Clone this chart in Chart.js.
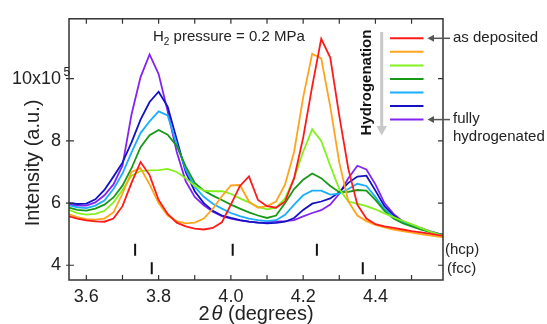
<!DOCTYPE html>
<html>
<head>
<meta charset="utf-8">
<script src="https://cdn.jsdelivr.net/npm/chart.js@4/dist/chart.umd.min.js"></script>
<style>
  html, body { margin: 0; padding: 0; background: #fff; }
</style>
</head>
<body>
<canvas id="chart" width="547" height="324"></canvas>
<script>
const twoTheta = [3.55, 3.575, 3.6, 3.625, 3.65, 3.675, 3.7, 3.725, 3.75, 3.775, 3.8, 3.825, 3.85, 3.875, 3.9,
    3.925, 3.95, 3.975, 4.0, 4.025, 4.05, 4.075, 4.1, 4.125, 4.15, 4.175, 4.2, 4.225, 4.25, 4.275, 4.3,
    4.325, 4.35, 4.375, 4.4, 4.425, 4.45, 4.475, 4.5, 4.525, 4.55, 4.575, 4.6];

// intensity in units of 1e5, from as deposited (first) to fully hydrogenated (last)
const stage1 = [5.58, 5.5, 5.44, 5.41, 5.4, 5.5, 5.9, 6.65, 7.32, 6.9, 6.1, 5.65, 5.37, 5.25, 5.18,
    5.15, 5.2, 5.38, 5.95, 6.55, 6.86, 6.1, 5.9, 5.85, 6.05, 6.8, 8.1, 9.75, 11.28, 10.68, 8.8,
    7.1, 5.95, 5.5, 5.32, 5.25, 5.2, 5.15, 5.1, 5.06, 5.02, 4.97, 4.93];
const stage2 = [5.65, 5.55, 5.48, 5.47, 5.5, 5.7, 6.3, 7.0, 7.12, 6.6, 6.0, 5.6, 5.42, 5.35, 5.37,
    5.5, 5.82, 6.22, 6.57, 6.58, 6.05, 5.85, 5.9, 6.05, 6.6, 7.65, 9.4, 10.8, 10.65, 9.1, 7.3,
    6.05, 5.6, 5.42, 5.3, 5.22, 5.15, 5.1, 5.05, 5.0, 4.96, 4.92, 4.88];
const stage3 = [5.79, 5.68, 5.63, 5.65, 5.75, 6.02, 6.42, 6.88, 7.03, 7.05, 7.06, 7.1, 7.0, 6.8, 6.55,
    6.4, 6.38, 6.38, 6.3, 6.15, 6.02, 5.88, 5.8, 5.85, 6.15, 6.8, 7.65, 8.37, 8.0, 7.2, 6.45,
    6.05, 5.98, 5.9, 5.8, 5.67, 5.55, 5.43, 5.32, 5.2, 5.09, 4.99, 4.92];
const stage4 = [5.86, 5.78, 5.76, 5.82, 5.95, 6.18, 6.56, 7.12, 7.8, 8.18, 8.35, 8.2, 7.84, 7.18, 6.65,
    6.4, 6.24, 6.1, 5.95, 5.82, 5.7, 5.6, 5.52, 5.6, 6.0, 6.45, 6.75, 6.95, 6.8, 6.55, 6.35,
    6.36, 6.42, 6.4, 6.1, 5.75, 5.5, 5.35, 5.25, 5.15, 5.07, 5.0, 4.95];
const stage5 = [5.93, 5.86, 5.84, 5.92, 6.08, 6.45, 6.95, 7.63, 8.25, 8.63, 8.95, 8.82, 7.9, 7.08, 6.52,
    6.2, 5.98, 5.82, 5.68, 5.58, 5.5, 5.45, 5.42, 5.45, 5.62, 5.95, 6.25, 6.4, 6.4, 6.27, 6.3,
    6.45, 6.62, 6.55, 6.2, 5.8, 5.55, 5.38, 5.27, 5.17, 5.08, 5.0, 4.95];
const stage6 = [6.0, 5.97, 5.98, 6.12, 6.42, 6.85, 7.3, 7.95, 8.68, 9.25, 9.58, 9.1, 8.05, 7.0, 6.38,
    6.0, 5.75, 5.6, 5.52, 5.45, 5.4, 5.37, 5.35, 5.36, 5.4, 5.52, 5.78, 5.98, 6.05, 6.15, 6.35,
    6.65, 6.85, 6.88, 6.4, 5.9, 5.6, 5.4, 5.28, 5.18, 5.08, 5.0, 4.95];
const stage7 = [5.95, 5.92, 5.92, 6.02, 6.25, 6.6, 7.2, 8.85, 10.05, 10.78, 10.15, 8.95, 7.65, 6.7, 6.2,
    5.93, 5.72, 5.58, 5.5, 5.44, 5.4, 5.37, 5.38, 5.4, 5.42, 5.45, 5.57, 5.68, 5.77, 5.95, 6.3,
    6.8, 7.2, 7.08, 6.6, 6.0, 5.65, 5.42, 5.3, 5.2, 5.1, 5.02, 4.96];

const stages = [stage1, stage2, stage3, stage4, stage5, stage6, stage7];
const stageColors = ['#ff1a1a', '#ffa41c', '#84f01c', '#169a16', '#1aaeff', '#1212c4', '#8424f2'];

const hcpPeaks = [3.735, 4.005, 4.238];
const fccPeaks = [3.781, 4.365];
const hcpLevel = 4.5;
const fccLevel = 3.9;

const xTicks = [3.6, 3.7, 3.8, 3.9, 4.0, 4.1, 4.2, 4.3, 4.4, 4.5];
const xMajor = [3.6, 3.8, 4.0, 4.2, 4.4];
const yTicks = [4, 6, 8, 10];
const yTickLabels = ['4', '6', '8', '10x10'];

const FONT = '"Liberation Sans", Arial, sans-serif';

const datasets = stages.map((vals, i) => ({
    data: twoTheta.map((x, j) => ({ x: x, y: vals[j] })),
    borderColor: stageColors[i],
    borderWidth: 1.8,
    pointRadius: 0,
    tension: 0,
    fill: false
}));

const markerSet = (peaks, level) => ({
    type: 'scatter',
    data: peaks.map(x => ({ x: x, y: level })),
    pointStyle: 'line',
    rotation: 90,
    radius: 6,
    borderWidth: 2,
    borderColor: '#111',
    backgroundColor: '#111'
});
datasets.push(markerSet(hcpPeaks, hcpLevel));
datasets.push(markerSet(fccPeaks, fccLevel));

const decorations = {
    id: 'decorations',
    afterDraw(chart) {
        const ctx = chart.ctx;
        const a = chart.chartArea;
        const xs = chart.scales.x, ys = chart.scales.y;
        ctx.save();

        // frame and ticks
        ctx.strokeStyle = '#333';
        ctx.lineWidth = 1.5;
        ctx.strokeRect(a.left, a.top, a.right - a.left, a.bottom - a.top);
        ctx.lineWidth = 1.2;
        ctx.beginPath();
        xTicks.forEach(v => {
            const px = xs.getPixelForValue(v);
            ctx.moveTo(px, a.bottom); ctx.lineTo(px, a.bottom - 5);
            ctx.moveTo(px, a.top); ctx.lineTo(px, a.top + 5);
        });
        yTicks.forEach(v => {
            const py = ys.getPixelForValue(v);
            ctx.moveTo(a.left - 3, py); ctx.lineTo(a.left + 5, py);
            ctx.moveTo(a.right, py); ctx.lineTo(a.right - 5, py);
        });
        ctx.stroke();

        // superscript exponent on top tick label
        ctx.fillStyle = '#222';
        ctx.font = '12px ' + FONT;
        ctx.textAlign = 'left';
        ctx.textBaseline = 'alphabetic';
        ctx.fillText('5', a.left - 5.5, ys.getPixelForValue(10) - 3);

        // axis titles
        ctx.font = '20px ' + FONT;
        ctx.save();
        ctx.translate(33, 163);
        ctx.rotate(-Math.PI / 2);
        ctx.textAlign = 'center';
        ctx.textBaseline = 'middle';
        ctx.fillText('Intensity (a.u.)', 0, 0);
        ctx.restore();

        const p1 = '2', p2 = '\u03B8', p3 = ' (degrees)';
        ctx.font = '20px ' + FONT;
        const w1 = ctx.measureText(p1).width, w3 = ctx.measureText(p3).width;
        ctx.font = 'italic 20px ' + FONT;
        const w2 = ctx.measureText(p2).width;
        let tx = 256 - (w1 + w2 + w3 + 2) / 2;
        ctx.textAlign = 'left';
        ctx.font = '20px ' + FONT;
        ctx.fillText(p1, tx, 320);
        ctx.font = 'italic 20px ' + FONT;
        ctx.fillText(p2, tx + w1 + 2, 320);
        ctx.font = '20px ' + FONT;
        ctx.fillText(p3, tx + w1 + 2 + w2, 320);

        // pressure note
        ctx.font = '15px ' + FONT;
        ctx.fillText('H', 153, 41);
        const wh = ctx.measureText('H').width;
        ctx.font = '10px ' + FONT;
        ctx.fillText('2', 153 + wh, 45);
        const ws = ctx.measureText('2').width;
        ctx.font = '15px ' + FONT;
        ctx.fillText(' pressure = 0.2 MPa', 153 + wh + ws, 41);

        // phase labels
        ctx.textBaseline = 'middle';
        ctx.fillText('(hcp)', 445, ys.getPixelForValue(hcpLevel));
        ctx.fillText('(fcc)', 447, ys.getPixelForValue(fccLevel));

        // legend
        stageColors.forEach((c, i) => {
            const ly = 38.3 + i * 13.55;
            ctx.strokeStyle = c;
            ctx.lineWidth = 2;
            ctx.beginPath();
            ctx.moveTo(390, ly); ctx.lineTo(423.5, ly);
            ctx.stroke();
        });
        [38.3, 119.6].forEach(ly => {
            ctx.strokeStyle = '#555';
            ctx.fillStyle = '#555';
            ctx.lineWidth = 1.5;
            ctx.beginPath();
            ctx.moveTo(450, ly); ctx.lineTo(432, ly);
            ctx.stroke();
            ctx.beginPath();
            ctx.moveTo(427.5, ly); ctx.lineTo(434, ly - 3.5); ctx.lineTo(434, ly + 3.5);
            ctx.closePath();
            ctx.fill();
        });
        ctx.fillStyle = '#222';
        ctx.font = '15px ' + FONT;
        ctx.textAlign = 'left';
        ctx.fillText('as deposited', 453, 38.3);
        ctx.fillText('fully', 453, 119);
        ctx.fillText('hydrogenated', 453, 136.5);

        // hydrogenation arrow
        ctx.strokeStyle = '#c8c8c8';
        ctx.fillStyle = '#c8c8c8';
        ctx.lineWidth = 3;
        ctx.beginPath();
        ctx.moveTo(381.7, 32); ctx.lineTo(381.7, 127);
        ctx.stroke();
        ctx.beginPath();
        ctx.moveTo(376.5, 126); ctx.lineTo(387, 126); ctx.lineTo(381.7, 135.5);
        ctx.closePath();
        ctx.fill();

        ctx.save();
        ctx.translate(366.7, 82.5);
        ctx.rotate(-Math.PI / 2);
        ctx.fillStyle = '#111';
        ctx.font = 'bold 15px ' + FONT;
        ctx.textAlign = 'center';
        ctx.textBaseline = 'middle';
        ctx.fillText('Hydrogenation', 0, 0);
        ctx.restore();

        ctx.restore();
    }
};

new Chart(document.getElementById('chart'), {
    type: 'line',
    data: { datasets: datasets },
    options: {
        responsive: false,
        animation: false,
        layout: { padding: { top: 14, right: 104, left: 0, bottom: 0 } },
        plugins: {
            legend: { display: false },
            tooltip: { enabled: false }
        },
        scales: {
            x: {
                type: 'linear',
                min: 3.552,
                max: 4.587,
                grid: { display: false, drawTicks: false, tickLength: 0 },
                border: { display: false },
                afterBuildTicks: (s) => { s.ticks = xTicks.map(v => ({ value: v })); },
                afterFit: (s) => { s.height = 44; },
                ticks: {
                    autoSkip: false,
                    maxRotation: 0,
                    padding: 6,
                    color: '#222',
                    font: { family: FONT, size: 18 },
                    callback: (v) => xMajor.some(m => Math.abs(m - v) < 1e-6) ? v.toFixed(1) : ''
                }
            },
            y: {
                min: 3.526,
                max: 11.925,
                grid: { display: false, drawTicks: false, tickLength: 0 },
                border: { display: false },
                afterBuildTicks: (s) => { s.ticks = yTicks.map(v => ({ value: v })); },
                afterFit: (s) => { s.width = 69; },
                ticks: {
                    padding: 8,
                    color: '#222',
                    font: { family: FONT, size: 18 },
                    callback: (v) => yTickLabels[yTicks.indexOf(v)]
                }
            }
        }
    },
    plugins: [decorations]
});
</script>
</body>
</html>
